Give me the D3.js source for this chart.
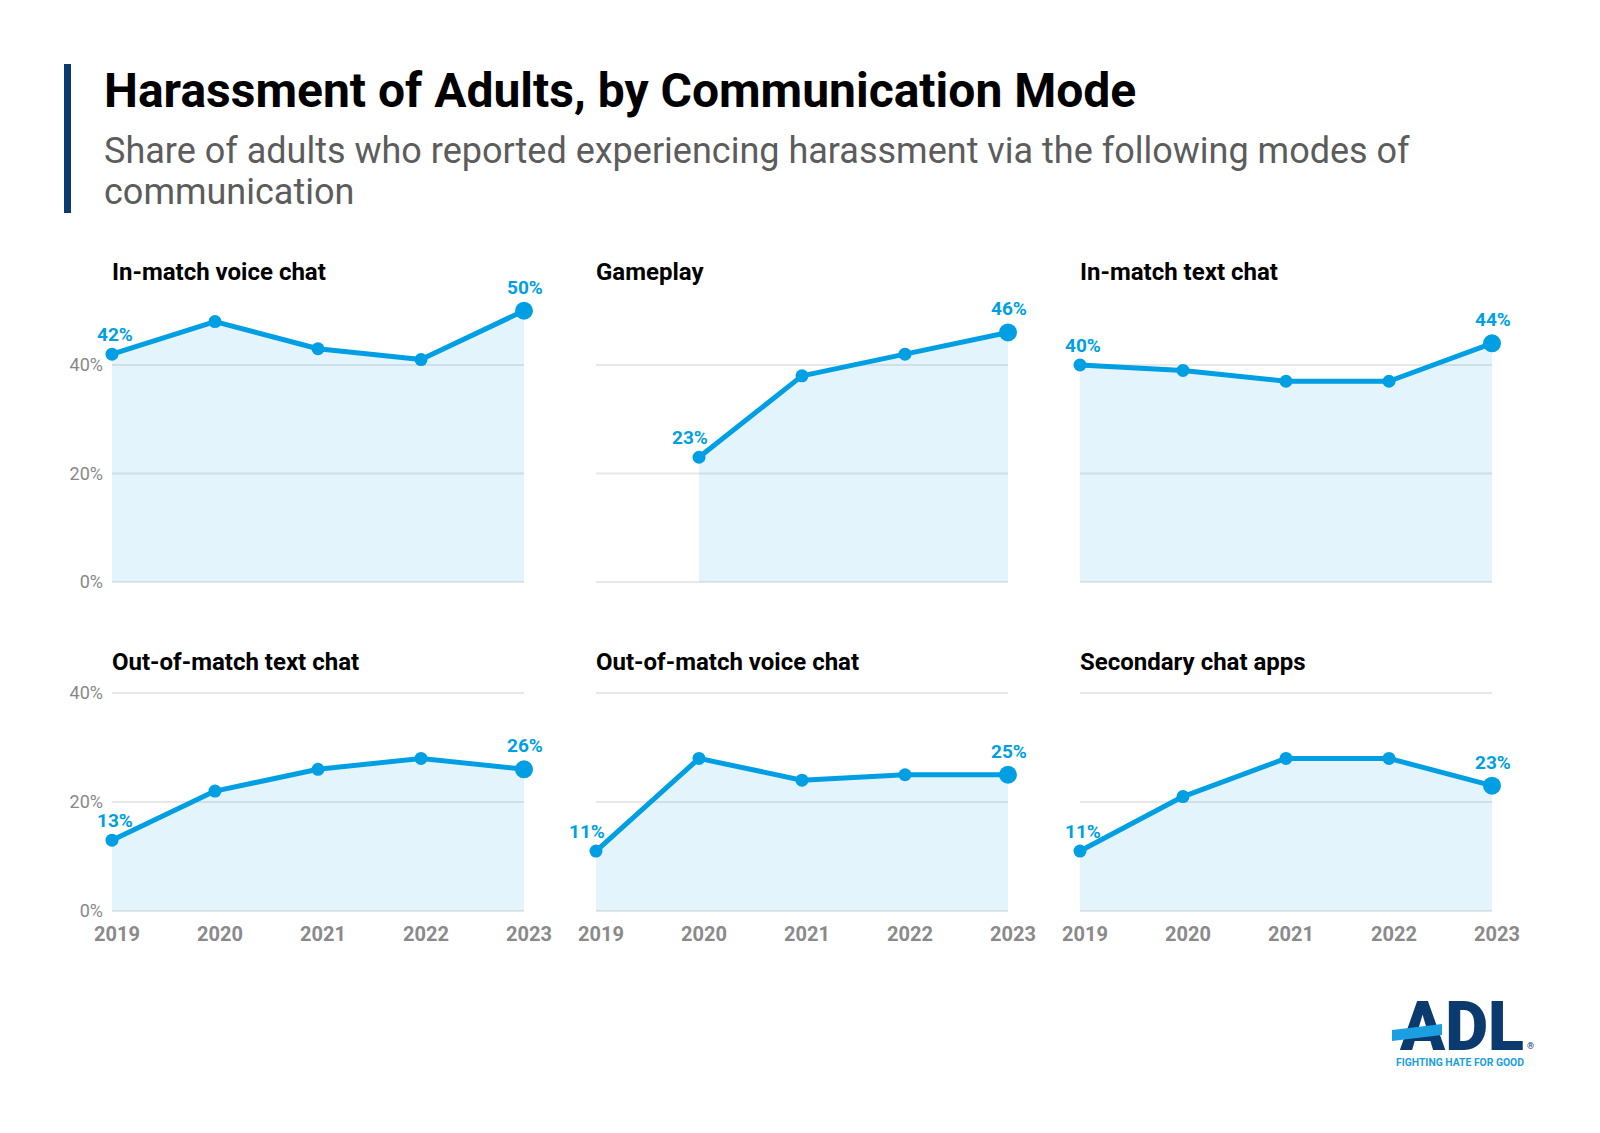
<!DOCTYPE html>
<html>
<head>
<meta charset="utf-8">
<script src="https://cdn.jsdelivr.net/npm/d3@7"></script>
<style>
  html, body { margin: 0; padding: 0; background: #fff; }
  svg { display: block; font-family: Roboto, "Noto Sans", sans-serif; }
</style>
</head>
<body>
<svg id="chart" width="1600" height="1133"></svg>
<script>
// ---------- data ----------
const years = ["2019", "2020", "2021", "2022", "2023"];
const panelTitles = [
  "In-match voice chat", "Gameplay", "In-match text chat",
  "Out-of-match text chat", "Out-of-match voice chat", "Secondary chat apps"
];
const inMatchVoice   = [42, 48, 43, 41, 50];
const gameplay       = [null, 23, 38, 42, 46];
const inMatchText    = [40, 39, 37, 37, 44];
const outMatchText   = [13, 22, 26, 28, 26];
const outMatchVoice  = [11, 28, 24, 25, 25];
const secondaryApps  = [11, 21, 28, 28, 23];
const seriesList = [inMatchVoice, gameplay, inMatchText, outMatchText, outMatchVoice, secondaryApps];
const yTicks = [0, 20, 40];
const titleText = "Harassment of Adults, by Communication Mode";
const subtitleLines = [
  "Share of adults who reported experiencing harassment via the following modes of",
  "communication"
];

// ---------- styles / layout ----------
const BLUE = "#009fe3";
const svg = d3.select("#chart");

svg.append("rect").attr("x", 64).attr("y", 64).attr("width", 7).attr("height", 149).attr("fill", "#0b3a6e");
svg.append("text").attr("x", 104).attr("y", 107)
  .attr("font-size", 48).attr("font-weight", 700).attr("fill", "#000").text(titleText);
subtitleLines.forEach((l, i) => {
  svg.append("text").attr("x", 104).attr("y", 163 + i * 41)
    .attr("font-size", 36).attr("fill", "#5c5c5c").text(l);
});

const colX = [112, 596, 1080];
const rows = [
  { zero: 582, forty: 365, titleY: 280 },
  { zero: 911, forty: 693, titleY: 670 }
];
const plotW = 412;

seriesList.forEach((vals, i) => {
  const col = i % 3, row = Math.floor(i / 3);
  const R = rows[row];
  const x = d3.scalePoint().domain(years).range([colX[col], colX[col] + plotW]);
  const y = d3.scaleLinear().domain([0, 40]).range([R.zero, R.forty]);
  const g = svg.append("g");

  g.append("text").attr("x", colX[col]).attr("y", R.titleY)
    .attr("font-size", 24).attr("font-weight", 700).attr("fill", "#000")
    .text(panelTitles[i]);

  // gridlines
  g.selectAll("line.grid").data(yTicks).join("line")
    .attr("x1", colX[col]).attr("x2", colX[col] + plotW)
    .attr("y1", d => y(d)).attr("y2", d => y(d))
    .attr("stroke", "#e8e8e8").attr("stroke-width", 2);

  if (col === 0) {
    g.selectAll("text.ytick").data(yTicks).join("text")
      .attr("x", 103).attr("y", d => y(d)).attr("dy", "0.36em")
      .attr("text-anchor", "end").attr("font-size", 18).attr("fill", "#888")
      .text(d => d + "%");
  }

  const pts = years.map((yr, j) => ({ yr, v: vals[j] })).filter(d => d.v != null);

  const area = d3.area().x(d => x(d.yr)).y0(y(0)).y1(d => y(d.v));
  g.append("path").datum(pts).attr("d", area)
    .attr("fill", BLUE).attr("fill-opacity", 0.11);

  const line = d3.line().x(d => x(d.yr)).y(d => y(d.v));
  g.append("path").datum(pts).attr("d", line)
    .attr("fill", "none").attr("stroke", BLUE).attr("stroke-width", 5)
    .attr("stroke-linejoin", "round");

  g.selectAll("circle").data(pts).join("circle")
    .attr("cx", d => x(d.yr)).attr("cy", d => y(d.v))
    .attr("r", (d, j) => j === pts.length - 1 ? 9 : 6.5)
    .attr("fill", BLUE);

  const first = pts[0], last = pts[pts.length - 1];
  const steep = pts[1].v - first.v > 12;
  g.append("text").attr("x", x(first.yr) + (steep ? -9 : 3)).attr("y", y(first.v) - 13)
    .attr("text-anchor", "middle").attr("font-size", 19).attr("font-weight", 700)
    .attr("fill", BLUE).text(first.v + "%");
  g.append("text").attr("x", x(last.yr) + 1).attr("y", y(last.v) - 17)
    .attr("text-anchor", "middle").attr("font-size", 19).attr("font-weight", 700)
    .attr("fill", BLUE).text(last.v + "%");

  if (row === 1) {
    g.selectAll("text.xtick").data(years).join("text")
      .attr("x", d => x(d) + 5).attr("y", 941)
      .attr("text-anchor", "middle").attr("font-size", 20).attr("font-weight", 700)
      .attr("fill", "#8a8a8a").text(d => d);
  }
});

// ---------- logo ----------
const logo = svg.append("g");
logo.append("text").attr("x", 1400).attr("y", 1050)
  .attr("font-size", 69).attr("font-weight", 900).attr("fill", "#0b3a6e")
  .attr("textLength", 124).attr("lengthAdjust", "spacingAndGlyphs").text("ADL");
logo.append("polygon")
  .attr("points", "1392,1030 1442,1024 1442,1035 1392,1041")
  .attr("fill", "#1a9fe0");
logo.append("text").attr("x", 1527).attr("y", 1049)
  .attr("font-size", 9).attr("fill", "#0b3a6e").text("®");
logo.append("text").attr("x", 1396).attr("y", 1066)
  .attr("font-size", 11).attr("font-weight", 700).attr("fill", "#1a9fe0")
  .attr("textLength", 128).attr("lengthAdjust", "spacingAndGlyphs")
  .text("FIGHTING HATE FOR GOOD");
</script>
</body>
</html>
